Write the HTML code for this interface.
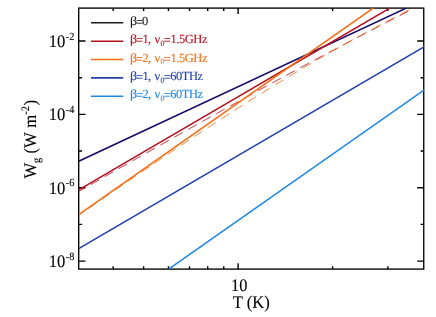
<!DOCTYPE html><html><head><meta charset="utf-8"><title>plot</title><style>html,body{margin:0;padding:0;background:#fff}svg{display:block}text{font-family:"Liberation Serif",serif;text-rendering:geometricPrecision;stroke-width:.1px}svg{will-change:transform;opacity:.999}</style></head><body>
<svg width="436" height="317" viewBox="0 0 436 317">
<rect width="436" height="317" fill="#fff"/>
<defs><clipPath id="c"><rect x="78.7" y="8.1" width="345.3" height="261.0"/></clipPath></defs>
<g stroke="#000" stroke-width="1.4" fill="none">
<path d="M78.7 261.08h6.8 M424.0 261.08h-6.8"/>
<path d="M78.7 224.40h3.4 M424.0 224.40h-3.4"/>
<path d="M78.7 187.72h6.8 M424.0 187.72h-6.8"/>
<path d="M78.7 151.04h3.4 M424.0 151.04h-3.4"/>
<path d="M78.7 114.36h6.8 M424.0 114.36h-6.8"/>
<path d="M78.7 77.68h3.4 M424.0 77.68h-3.4"/>
<path d="M78.7 41.00h6.8 M424.0 41.00h-6.8"/>
<path d="M113.19 269.1v-2.8 M113.19 8.1v2.8"/>
<path d="M143.61 269.1v-2.8 M143.61 8.1v2.8"/>
<path d="M168.46 269.1v-2.8 M168.46 8.1v2.8"/>
<path d="M189.48 269.1v-2.8 M189.48 8.1v2.8"/>
<path d="M207.68 269.1v-2.8 M207.68 8.1v2.8"/>
<path d="M223.74 269.1v-2.8 M223.74 8.1v2.8"/>
<path d="M238.10 269.1v-5.8 M238.10 8.1v5.8"/>
<path d="M332.59 269.1v-2.8 M332.59 8.1v2.8"/>
<path d="M387.87 269.1v-2.8 M387.87 8.1v2.8"/>
<rect x="78.7" y="8.1" width="345.05" height="261.0" stroke-width="1.35"/>
</g>
<g clip-path="url(#c)" fill="none" stroke-linecap="butt">
<path d="M78.70 191.53 L79.70 190.95 L80.70 190.38 L81.70 189.81 L82.70 189.24 L83.70 188.66 L84.70 188.09 L85.70 187.52 L86.70 186.95 L87.70 186.37 L88.70 185.80 L89.70 185.23 L90.70 184.66 L91.70 184.09 L92.70 183.52 L93.70 182.94 L94.70 182.37 L95.70 181.80 L96.70 181.23 L97.70 180.66 L98.70 180.09 L99.70 179.52 L100.70 178.95 L101.70 178.38 L102.70 177.81 L103.70 177.23 L104.70 176.66 L105.70 176.09 L106.70 175.52 L107.70 174.95 L108.70 174.38 L109.70 173.81 L110.70 173.24 L111.70 172.67 L112.70 172.10 L113.70 171.53 L114.70 170.96 L115.70 170.40 L116.70 169.83 L117.70 169.26 L118.70 168.69 L119.70 168.12 L120.70 167.55 L121.70 166.98 L122.70 166.41 L123.70 165.84 L124.70 165.28 L125.70 164.71 L126.70 164.14 L127.70 163.57 L128.70 163.00 L129.70 162.43 L130.70 161.87 L131.70 161.30 L132.70 160.73 L133.70 160.16 L134.70 159.60 L135.70 159.03 L136.70 158.46 L137.70 157.90 L138.70 157.33 L139.70 156.76 L140.70 156.20 L141.70 155.63 L142.70 155.06 L143.70 154.50 L144.70 153.93 L145.70 153.36 L146.70 152.80 L147.70 152.23 L148.70 151.67 L149.70 151.10 L150.70 150.53 L151.70 149.97 L152.70 149.40 L153.70 148.84 L154.70 148.27 L155.70 147.71 L156.70 147.14 L157.70 146.58 L158.70 146.02 L159.70 145.45 L160.70 144.89 L161.70 144.32 L162.70 143.76 L163.70 143.20 L164.70 142.63 L165.70 142.07 L166.70 141.50 L167.70 140.94 L168.70 140.38 L169.70 139.81 L170.70 139.25 L171.70 138.69 L172.70 138.13 L173.70 137.56 L174.70 137.00 L175.70 136.44 L176.70 135.88 L177.70 135.32 L178.70 134.75 L179.70 134.19 L180.70 133.63 L181.70 133.07 L182.70 132.51 L183.70 131.95 L184.70 131.39 L185.70 130.83 L186.70 130.27 L187.70 129.71 L188.70 129.14 L189.70 128.58 L190.70 128.02 L191.70 127.46 L192.70 126.91 L193.70 126.35 L194.70 125.79 L195.70 125.23 L196.70 124.67 L197.70 124.11 L198.70 123.55 L199.70 122.99 L200.70 122.43 L201.70 121.88 L202.70 121.32 L203.70 120.76 L204.70 120.20 L205.70 119.64 L206.70 119.09 L207.70 118.53 L208.70 117.97 L209.70 117.42 L210.70 116.86 L211.70 116.30 L212.70 115.75 L213.70 115.19 L214.70 114.63 L215.70 114.08 L216.70 113.52 L217.70 112.97 L218.70 112.41 L219.70 111.86 L220.70 111.30 L221.70 110.75 L222.70 110.19 L223.70 109.64 L224.70 109.08 L225.70 108.53 L226.70 107.98 L227.70 107.42 L228.70 106.87 L229.70 106.32 L230.70 105.76 L231.70 105.21 L232.70 104.66 L233.70 104.10 L234.70 103.55 L235.70 103.00 L236.70 102.45 L237.70 101.90 L238.70 101.34 L239.70 100.79 L240.70 100.24 L241.70 99.69 L242.70 99.14 L243.70 98.59 L244.70 98.04 L245.70 97.49 L246.70 96.94 L247.70 96.39 L248.70 95.84 L249.70 95.29 L250.70 94.74 L251.70 94.19 L252.70 93.64 L253.70 93.09 L254.70 92.55 L255.70 92.00 L256.70 91.45 L257.70 90.90 L258.70 90.35 L259.70 89.81 L260.70 89.26 L261.70 88.71 L262.70 88.17 L263.70 87.62 L264.70 87.07 L265.70 86.53 L266.70 85.98 L267.70 85.44 L268.70 84.89 L269.70 84.35 L270.70 83.80 L271.70 83.26 L272.70 82.71 L273.70 82.17 L274.70 81.62 L275.70 81.08 L276.70 80.54 L277.70 79.99 L278.70 79.45 L279.70 78.91 L280.70 78.36 L281.70 77.82 L282.70 77.28 L283.70 76.74 L284.70 76.20 L285.70 75.65 L286.70 75.11 L287.70 74.57 L288.70 74.03 L289.70 73.49 L290.70 72.95 L291.70 72.41 L292.70 71.87 L293.70 71.33 L294.70 70.79 L295.70 70.25 L296.70 69.71 L297.70 69.18 L298.70 68.64 L299.70 68.10 L300.70 67.56 L301.70 67.02 L302.70 66.49 L303.70 65.95 L304.70 65.41 L305.70 64.88 L306.70 64.34 L307.70 63.80 L308.70 63.27 L309.70 62.73 L310.70 62.20 L311.70 61.66 L312.70 61.13 L313.70 60.59 L314.70 60.06 L315.70 59.52 L316.70 58.99 L317.70 58.46 L318.70 57.92 L319.70 57.39 L320.70 56.86 L321.70 56.32 L322.70 55.79 L323.70 55.26 L324.70 54.73 L325.70 54.20 L326.70 53.67 L327.70 53.13 L328.70 52.60 L329.70 52.07 L330.70 51.54 L331.70 51.01 L332.70 50.48 L333.70 49.95 L334.70 49.42 L335.70 48.90 L336.70 48.37 L337.70 47.84 L338.70 47.31 L339.70 46.78 L340.70 46.26 L341.70 45.73 L342.70 45.20 L343.70 44.67 L344.70 44.15 L345.70 43.62 L346.70 43.10 L347.70 42.57 L348.70 42.05 L349.70 41.52 L350.70 41.00 L351.70 40.47 L352.70 39.95 L353.70 39.42 L354.70 38.90 L355.70 38.38 L356.70 37.85 L357.70 37.33 L358.70 36.81 L359.70 36.29 L360.70 35.76 L361.70 35.24 L362.70 34.72 L363.70 34.20 L364.70 33.68 L365.70 33.16 L366.70 32.64 L367.70 32.12 L368.70 31.60 L369.70 31.08 L370.70 30.56 L371.70 30.04 L372.70 29.52 L373.70 29.00 L374.70 28.48 L375.70 27.97 L376.70 27.45 L377.70 26.93 L378.70 26.41 L379.70 25.90 L380.70 25.38 L381.70 24.87 L382.70 24.35 L383.70 23.83 L384.70 23.32 L385.70 22.80 L386.70 22.29 L387.70 21.77 L388.70 21.26 L389.70 20.75 L390.70 20.23 L391.70 19.72 L392.70 19.21 L393.70 18.69 L394.70 18.18 L395.70 17.67 L396.70 17.16 L397.70 16.65 L398.70 16.13 L399.70 15.62 L400.70 15.11 L401.70 14.60 L402.70 14.09 L403.70 13.58 L404.70 13.07 L405.70 12.56 L406.70 12.05 L407.70 11.54 L408.70 11.04 L409.70 10.53 L410.70 10.02 L411.70 9.51 L412.70 9.00 L413.70 8.50 L414.70 7.99 L415.70 7.48 L416.70 6.98 L417.70 6.47 L418.70 5.97 L419.70 5.46 L420.70 4.95 L421.70 4.45 L422.70 3.94 L423.70 3.44" stroke="#b5121f" stroke-width="0.95" stroke-dasharray="9.5 6.5" stroke-dashoffset="2.03"/>
<path d="M78.70 215.23 L79.70 214.54 L80.70 213.84 L81.70 213.15 L82.70 212.46 L83.70 211.77 L84.70 211.08 L85.70 210.38 L86.70 209.69 L87.70 209.00 L88.70 208.31 L89.70 207.62 L90.70 206.93 L91.70 206.24 L92.70 205.55 L93.70 204.85 L94.70 204.16 L95.70 203.47 L96.70 202.78 L97.70 202.09 L98.70 201.40 L99.70 200.71 L100.70 200.02 L101.70 199.34 L102.70 198.65 L103.70 197.96 L104.70 197.27 L105.70 196.58 L106.70 195.89 L107.70 195.20 L108.70 194.51 L109.70 193.83 L110.70 193.14 L111.70 192.45 L112.70 191.76 L113.70 191.08 L114.70 190.39 L115.70 189.70 L116.70 189.02 L117.70 188.33 L118.70 187.64 L119.70 186.96 L120.70 186.27 L121.70 185.58 L122.70 184.90 L123.70 184.21 L124.70 183.53 L125.70 182.84 L126.70 182.16 L127.70 181.47 L128.70 180.79 L129.70 180.11 L130.70 179.42 L131.70 178.74 L132.70 178.06 L133.70 177.37 L134.70 176.69 L135.70 176.01 L136.70 175.33 L137.70 174.64 L138.70 173.96 L139.70 173.28 L140.70 172.60 L141.70 171.92 L142.70 171.24 L143.70 170.56 L144.70 169.88 L145.70 169.20 L146.70 168.52 L147.70 167.84 L148.70 167.16 L149.70 166.48 L150.70 165.80 L151.70 165.12 L152.70 164.44 L153.70 163.77 L154.70 163.09 L155.70 162.41 L156.70 161.74 L157.70 161.06 L158.70 160.38 L159.70 159.71 L160.70 159.03 L161.70 158.36 L162.70 157.68 L163.70 157.01 L164.70 156.33 L165.70 155.66 L166.70 154.99 L167.70 154.31 L168.70 153.64 L169.70 152.97 L170.70 152.30 L171.70 151.62 L172.70 150.95 L173.70 150.28 L174.70 149.61 L175.70 148.94 L176.70 148.27 L177.70 147.60 L178.70 146.93 L179.70 146.27 L180.70 145.60 L181.70 144.93 L182.70 144.26 L183.70 143.59 L184.70 142.93 L185.70 142.26 L186.70 141.60 L187.70 140.93 L188.70 140.27 L189.70 139.60 L190.70 138.94 L191.70 138.27 L192.70 137.61 L193.70 136.95 L194.70 136.29 L195.70 135.62 L196.70 134.96 L197.70 134.30 L198.70 133.64 L199.70 132.98 L200.70 132.32 L201.70 131.66 L202.70 131.01 L203.70 130.35 L204.70 129.69 L205.70 129.03 L206.70 128.38 L207.70 127.72 L208.70 127.07 L209.70 126.41 L210.70 125.76 L211.70 125.10 L212.70 124.45 L213.70 123.80 L214.70 123.14 L215.70 122.49 L216.70 121.84 L217.70 121.19 L218.70 120.54 L219.70 119.89 L220.70 119.24 L221.70 118.59 L222.70 117.95 L223.70 117.30 L224.70 116.65 L225.70 116.01 L226.70 115.36 L227.70 114.72 L228.70 114.07 L229.70 113.43 L230.70 112.79 L231.70 112.14 L232.70 111.50 L233.70 110.86 L234.70 110.22 L235.70 109.58 L236.70 108.94 L237.70 108.30 L238.70 107.66 L239.70 107.03 L240.70 106.39 L241.70 105.75 L242.70 105.12 L243.70 104.48 L244.70 103.85 L245.70 103.22 L246.70 102.58 L247.70 101.95 L248.70 101.32 L249.70 100.69 L250.70 100.06 L251.70 99.43 L252.70 98.80 L253.70 98.17 L254.70 97.55 L255.70 96.92 L256.70 96.29 L257.70 95.67 L258.70 95.04 L259.70 94.42 L260.70 93.80 L261.70 93.18 L262.70 92.55 L263.70 91.93 L264.70 91.31 L265.70 90.69 L266.70 90.07 L267.70 89.46 L268.70 88.84 L269.70 88.22 L270.70 87.61 L271.70 86.99 L272.70 86.38 L273.70 85.76 L274.70 85.15 L275.70 84.54 L276.70 83.93 L277.70 83.32 L278.70 82.71 L279.70 82.10 L280.70 81.49 L281.70 80.89 L282.70 80.28 L283.70 79.67 L284.70 79.07 L285.70 78.46 L286.70 77.86 L287.70 77.26 L288.70 76.66 L289.70 76.06 L290.70 75.46 L291.70 74.86 L292.70 74.26 L293.70 73.66 L294.70 73.06 L295.70 72.47 L296.70 71.87 L297.70 71.28 L298.70 70.68 L299.70 70.09 L300.70 69.50 L301.70 68.91 L302.70 68.31 L303.70 67.73 L304.70 67.14 L305.70 66.55 L306.70 65.96 L307.70 65.37 L308.70 64.79 L309.70 64.20 L310.70 63.62 L311.70 63.04 L312.70 62.45 L313.70 61.87 L314.70 61.29 L315.70 60.71 L316.70 60.13 L317.70 59.55 L318.70 58.98 L319.70 58.40 L320.70 57.82 L321.70 57.25 L322.70 56.67 L323.70 56.10 L324.70 55.53 L325.70 54.95 L326.70 54.38 L327.70 53.81 L328.70 53.24 L329.70 52.67 L330.70 52.11 L331.70 51.54 L332.70 50.97 L333.70 50.41 L334.70 49.84 L335.70 49.28 L336.70 48.72 L337.70 48.15 L338.70 47.59 L339.70 47.03 L340.70 46.47 L341.70 45.91 L342.70 45.35 L343.70 44.80 L344.70 44.24 L345.70 43.68 L346.70 43.13 L347.70 42.57 L348.70 42.02 L349.70 41.47 L350.70 40.91 L351.70 40.36 L352.70 39.81 L353.70 39.26 L354.70 38.71 L355.70 38.16 L356.70 37.62 L357.70 37.07 L358.70 36.52 L359.70 35.98 L360.70 35.43 L361.70 34.89 L362.70 34.34 L363.70 33.80 L364.70 33.26 L365.70 32.72 L366.70 32.18 L367.70 31.64 L368.70 31.10 L369.70 30.56 L370.70 30.02 L371.70 29.49 L372.70 28.95 L373.70 28.42 L374.70 27.88 L375.70 27.35 L376.70 26.81 L377.70 26.28 L378.70 25.75 L379.70 25.22 L380.70 24.69 L381.70 24.16 L382.70 23.63 L383.70 23.10 L384.70 22.57 L385.70 22.04 L386.70 21.52 L387.70 20.99 L388.70 20.47 L389.70 19.94 L390.70 19.42 L391.70 18.89 L392.70 18.37 L393.70 17.85 L394.70 17.33 L395.70 16.81 L396.70 16.29 L397.70 15.77 L398.70 15.25 L399.70 14.73 L400.70 14.21 L401.70 13.69 L402.70 13.18 L403.70 12.66 L404.70 12.14 L405.70 11.63 L406.70 11.11 L407.70 10.60 L408.70 10.09 L409.70 9.57 L410.70 9.06 L411.70 8.55 L412.70 8.04 L413.70 7.53 L414.70 7.02 L415.70 6.51 L416.70 6.00 L417.70 5.49 L418.70 4.98 L419.70 4.47 L420.70 3.97 L421.70 3.46 L422.70 2.95 L423.70 2.45" stroke="#f46f16" stroke-width="0.95" stroke-dasharray="9.5 6.5" stroke-dashoffset="4.11"/>
<line x1="168.64" y1="269.10" x2="424.00" y2="90.06" stroke="#1e88e6" stroke-width="1.6"/>
<line x1="78.70" y1="248.66" x2="424.00" y2="46.91" stroke="#2040ae" stroke-width="1.6"/>
<line x1="78.70" y1="161.22" x2="406.30" y2="8.10" stroke="#17096a" stroke-width="1.6"/>
<line x1="78.70" y1="189.89" x2="389.85" y2="8.10" stroke="#b5121f" stroke-width="1.6"/>
<line x1="78.70" y1="214.63" x2="373.27" y2="8.10" stroke="#f46f16" stroke-width="1.6"/>
</g>
<text transform="translate(65.40 46.90) scale(1 1.07)" font-size="16.6" text-anchor="end" stroke="#000">10</text>
<text transform="translate(65.80 39.60) scale(1 1.07)" font-size="10.3" stroke="#000">-2</text>
<text transform="translate(65.40 120.26) scale(1 1.07)" font-size="16.6" text-anchor="end" stroke="#000">10</text>
<text transform="translate(65.80 112.96) scale(1 1.07)" font-size="10.3" stroke="#000">-4</text>
<text transform="translate(65.40 193.62) scale(1 1.07)" font-size="16.6" text-anchor="end" stroke="#000">10</text>
<text transform="translate(65.80 186.32) scale(1 1.07)" font-size="10.3" stroke="#000">-6</text>
<text transform="translate(65.40 266.98) scale(1 1.07)" font-size="16.6" text-anchor="end" stroke="#000">10</text>
<text transform="translate(65.80 259.68) scale(1 1.07)" font-size="10.3" stroke="#000">-8</text>
<text transform="translate(239.20 290.90) scale(1 1.07)" font-size="16.4" text-anchor="middle" stroke="#000">10</text>
<text transform="translate(251.20 308.40) scale(1 1.07)" font-size="16.6" text-anchor="middle" stroke="#000">T (K)</text>
<g transform="translate(35.7 178.6) rotate(-90) scale(1 1.07)"><text x="0" y="0" font-size="16.6" stroke="#000">W<tspan font-size="10.5" dy="3.8">g</tspan><tspan dy="-3.8"> (W</tspan><tspan dx="4.6">m</tspan><tspan font-size="10.5" dy="-6.6">-2</tspan><tspan dy="6.6" dx="0.5">)</tspan></text></g>
<line x1="91" y1="22.8" x2="123.2" y2="22.8" stroke="#1c1c1c" stroke-width="1.6"/>
<text transform="translate(129.90 25.00) scale(1.12 1)" font-size="12.5" fill="#1c1c1c" stroke="#1c1c1c">β</text>
<text transform="translate(136.00 25.00) scale(1.0 1)" font-size="12.5" fill="#1c1c1c" stroke="#1c1c1c" textLength="12.20" lengthAdjust="spacing"><tspan dy="1.2">=</tspan><tspan dy="-1.2">0</tspan></text>
<line x1="91" y1="41.2" x2="123.2" y2="41.2" stroke="#b5121f" stroke-width="1.6"/>
<text transform="translate(129.90 43.25) scale(1.12 1)" font-size="12.5" fill="#b5121f" stroke="#b5121f">β</text>
<text transform="translate(136.00 43.25) scale(1.0 1)" font-size="12.5" fill="#b5121f" stroke="#b5121f" textLength="15.20" lengthAdjust="spacing"><tspan dy="1.2">=</tspan><tspan dy="-1.2">1,</tspan></text>
<text transform="translate(154.60 43.25) scale(1.0 1)" font-size="12.5" fill="#b5121f" stroke="#b5121f">ν</text>
<text transform="translate(160.50 46.05) scale(1.0 1)" font-size="8" fill="#b5121f" stroke="#b5121f">0</text>
<text transform="translate(163.80 43.25) scale(1.0 1)" font-size="12.5" fill="#b5121f" stroke="#b5121f" textLength="43.70" lengthAdjust="spacing"><tspan dy="1.2">=</tspan><tspan dy="-1.2">1.5GHz</tspan></text>
<line x1="91" y1="59.5" x2="123.2" y2="59.5" stroke="#f46f16" stroke-width="1.6"/>
<text transform="translate(129.90 61.50) scale(1.12 1)" font-size="12.5" fill="#f46f16" stroke="#f46f16">β</text>
<text transform="translate(136.00 61.50) scale(1.0 1)" font-size="12.5" fill="#f46f16" stroke="#f46f16" textLength="15.20" lengthAdjust="spacing"><tspan dy="1.2">=</tspan><tspan dy="-1.2">2,</tspan></text>
<text transform="translate(154.60 61.50) scale(1.0 1)" font-size="12.5" fill="#f46f16" stroke="#f46f16">ν</text>
<text transform="translate(160.50 64.30) scale(1.0 1)" font-size="8" fill="#f46f16" stroke="#f46f16">0</text>
<text transform="translate(163.80 61.50) scale(1.0 1)" font-size="12.5" fill="#f46f16" stroke="#f46f16" textLength="43.70" lengthAdjust="spacing"><tspan dy="1.2">=</tspan><tspan dy="-1.2">1.5GHz</tspan></text>
<line x1="91" y1="77.9" x2="123.2" y2="77.9" stroke="#2040ae" stroke-width="1.6"/>
<text transform="translate(129.90 79.75) scale(1.12 1)" font-size="12.5" fill="#2040ae" stroke="#2040ae">β</text>
<text transform="translate(136.00 79.75) scale(1.0 1)" font-size="12.5" fill="#2040ae" stroke="#2040ae" textLength="15.20" lengthAdjust="spacing"><tspan dy="1.2">=</tspan><tspan dy="-1.2">1,</tspan></text>
<text transform="translate(154.60 79.75) scale(1.0 1)" font-size="12.5" fill="#2040ae" stroke="#2040ae">ν</text>
<text transform="translate(160.50 82.55) scale(1.0 1)" font-size="8" fill="#2040ae" stroke="#2040ae">0</text>
<text transform="translate(163.80 79.75) scale(1.0 1)" font-size="12.5" fill="#2040ae" stroke="#2040ae" textLength="39.20" lengthAdjust="spacing"><tspan dy="1.2">=</tspan><tspan dy="-1.2">60THz</tspan></text>
<line x1="91" y1="96.2" x2="123.2" y2="96.2" stroke="#1e88e6" stroke-width="1.6"/>
<text transform="translate(129.90 98.00) scale(1.12 1)" font-size="12.5" fill="#1e88e6" stroke="#1e88e6">β</text>
<text transform="translate(136.00 98.00) scale(1.0 1)" font-size="12.5" fill="#1e88e6" stroke="#1e88e6" textLength="15.20" lengthAdjust="spacing"><tspan dy="1.2">=</tspan><tspan dy="-1.2">2,</tspan></text>
<text transform="translate(154.60 98.00) scale(1.0 1)" font-size="12.5" fill="#1e88e6" stroke="#1e88e6">ν</text>
<text transform="translate(160.50 100.80) scale(1.0 1)" font-size="8" fill="#1e88e6" stroke="#1e88e6">0</text>
<text transform="translate(163.80 98.00) scale(1.0 1)" font-size="12.5" fill="#1e88e6" stroke="#1e88e6" textLength="39.20" lengthAdjust="spacing"><tspan dy="1.2">=</tspan><tspan dy="-1.2">60THz</tspan></text>
</svg></body></html>
